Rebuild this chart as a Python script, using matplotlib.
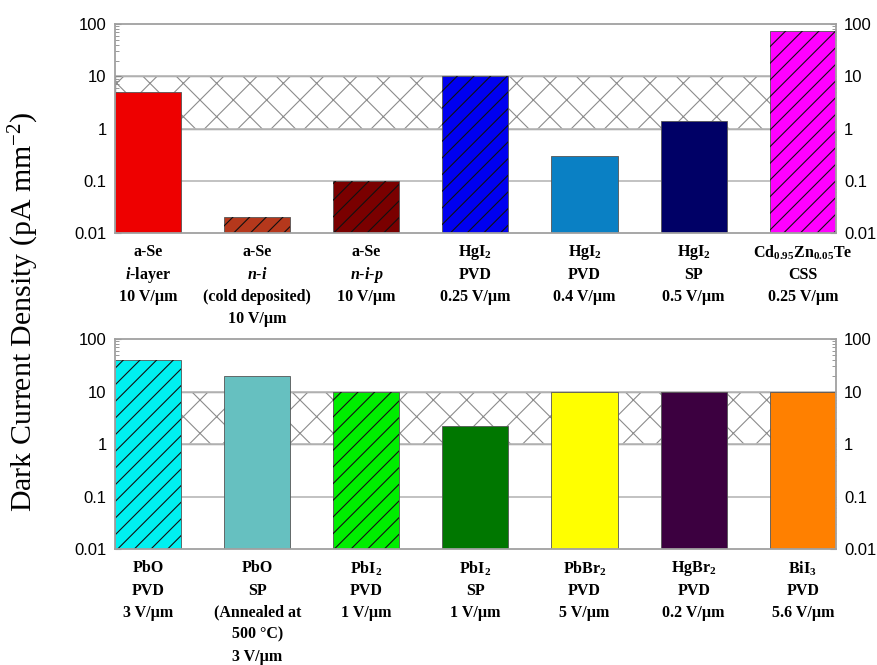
import numpy as np
import matplotlib
matplotlib.use('Agg')
import matplotlib.pyplot as plt
from matplotlib.ticker import FixedLocator, LogLocator, NullFormatter

plt.rcParams['mathtext.fontset'] = 'custom'
plt.rcParams['mathtext.rm'] = 'Liberation Serif:bold'
plt.rcParams['mathtext.it'] = 'Liberation Serif:italic:bold'
plt.rcParams['mathtext.bf'] = 'Liberation Serif:bold'
plt.rcParams['mathtext.default'] = 'regular'
plt.rcParams['hatch.linewidth'] = 0.8

# upper panel: a-Se, HgI2, CZT
top_labels = [
    ['a-Se', r'$\mathit{i}$-layer', '10 V/µm'],
    ['a-Se', r'$\mathit{n}$-$\mathit{i}$', '(cold deposited)', '10 V/µm'],
    ['a-Se', r'$\mathit{n}$-$\mathit{i}$-$\mathit{p}$', '10 V/µm'],
    [r'HgI$_2$', 'PVD', '0.25 V/µm'],
    [r'HgI$_2$', 'PVD', '0.4 V/µm'],
    [r'HgI$_2$', 'SP', '0.5 V/µm'],
    [r'Cd$_{0.95}$Zn$_{0.05}$Te', 'CSS', '0.25 V/µm'],
]
top_vals = [5, 0.02, 0.1, 10, 0.3, 1.4, 75]
top_colors = ['#ee0000', '#b5381c', '#7a0000', '#0000f0', '#0a80c4', '#000066', '#ff00ff']
top_hatched = [False, True, True, True, False, False, True]

# lower panel: Pb, Hg and Bi halides / oxide
bot_labels = [
    ['PbO', 'PVD', '3 V/µm'],
    ['PbO', 'SP', '(Annealed at', '500 °C)', '3 V/µm'],
    [r'PbI$_2$', 'PVD', '1 V/µm'],
    [r'PbI$_2$', 'SP', '1 V/µm'],
    [r'PbBr$_2$', 'PVD', '5 V/µm'],
    [r'HgBr$_2$', 'PVD', '0.2 V/µm'],
    [r'BiI$_3$', 'PVD', '5.6 V/µm'],
]
bot_vals = [40, 20, 10, 2.2, 10, 10, 10]
bot_colors = ['#00f0f0', '#66c0c0', '#00ee00', '#007700', '#ffff00', '#3c0040', '#ff8000']
bot_hatched = [True, False, True, False, False, False, False]

# acceptable range band
band = (1, 10)

fig = plt.figure(figsize=(8.78, 6.65), dpi=100)
ax1 = fig.add_axes([0.131, 0.6496, 0.821, 0.3143])
ax2 = fig.add_axes([0.131, 0.1744, 0.821, 0.3158])

width = 0.606
grey = '#a0a0a0'


def panel(ax, vals, colors, hatched, labels):
    x = np.arange(len(vals))
    ax.set_yscale('log')
    ax.set_ylim(0.01, 100)
    ax.set_xlim(-width / 2, len(vals) - 1 + width / 2)
    ax.axhspan(band[0], band[1], facecolor='white', edgecolor='#8c8c8c',
               hatch='x', lw=1.0, zorder=1)
    for v in [0.1, 1, 10]:
        ax.axhline(v, color='#b8b8b8', lw=1.2, zorder=1.5)
    ax.bar(x, vals, width=width, color=colors, edgecolor='#555555',
           lw=0.6, zorder=3)
    for xi, v, h in zip(x, vals, hatched):
        if h:
            ax.bar(xi, v, width=width, fill=False, hatch='//',
                   edgecolor='#111111', lw=0, zorder=4)
    for sp in ax.spines.values():
        sp.set_color(grey)
        sp.set_linewidth(1.3)
        sp.set_zorder(5)
    ax.set_xticks([])
    ax.yaxis.set_major_locator(FixedLocator([0.01, 0.1, 1, 10, 100]))
    ax.set_yticklabels(['0.01', '0.1', '1', '10', '100'])
    ax.yaxis.set_minor_locator(LogLocator(base=10, subs=np.arange(2, 10)))
    ax.yaxis.set_minor_formatter(NullFormatter())
    ax.tick_params(axis='y', which='both', direction='in', left=True,
                   right=True, labelleft=True, labelright=True,
                   color='#888888', labelsize=12, pad=6)
    ax.tick_params(axis='y', which='major', length=4)
    ax.tick_params(axis='y', which='minor', length=3)
    for lab in ax.get_yticklabels():
        lab.set_family('Liberation Sans')
    # multi-line category labels under each bar
    for xi, lines in zip(x, labels):
        for j, line in enumerate(lines):
            ax.annotate(line, xy=(xi, 0), xycoords=ax.get_xaxis_transform(),
                        xytext=(0, -14.0 - 15.9 * j), textcoords='offset points',
                        ha='center', va='center', fontsize=11.5,
                        family='Liberation Serif', weight='bold',
                        annotation_clip=False)


panel(ax1, top_vals, top_colors, top_hatched, top_labels)
panel(ax2, bot_vals, bot_colors, bot_hatched, bot_labels)

fig.text(0.027, 0.532, r'Dark Current Density (pA mm$^{-2}$)', rotation=90,
         ha='center', va='center', fontsize=21.5, family='Liberation Serif')

fig.savefig('out.png', dpi=100)
